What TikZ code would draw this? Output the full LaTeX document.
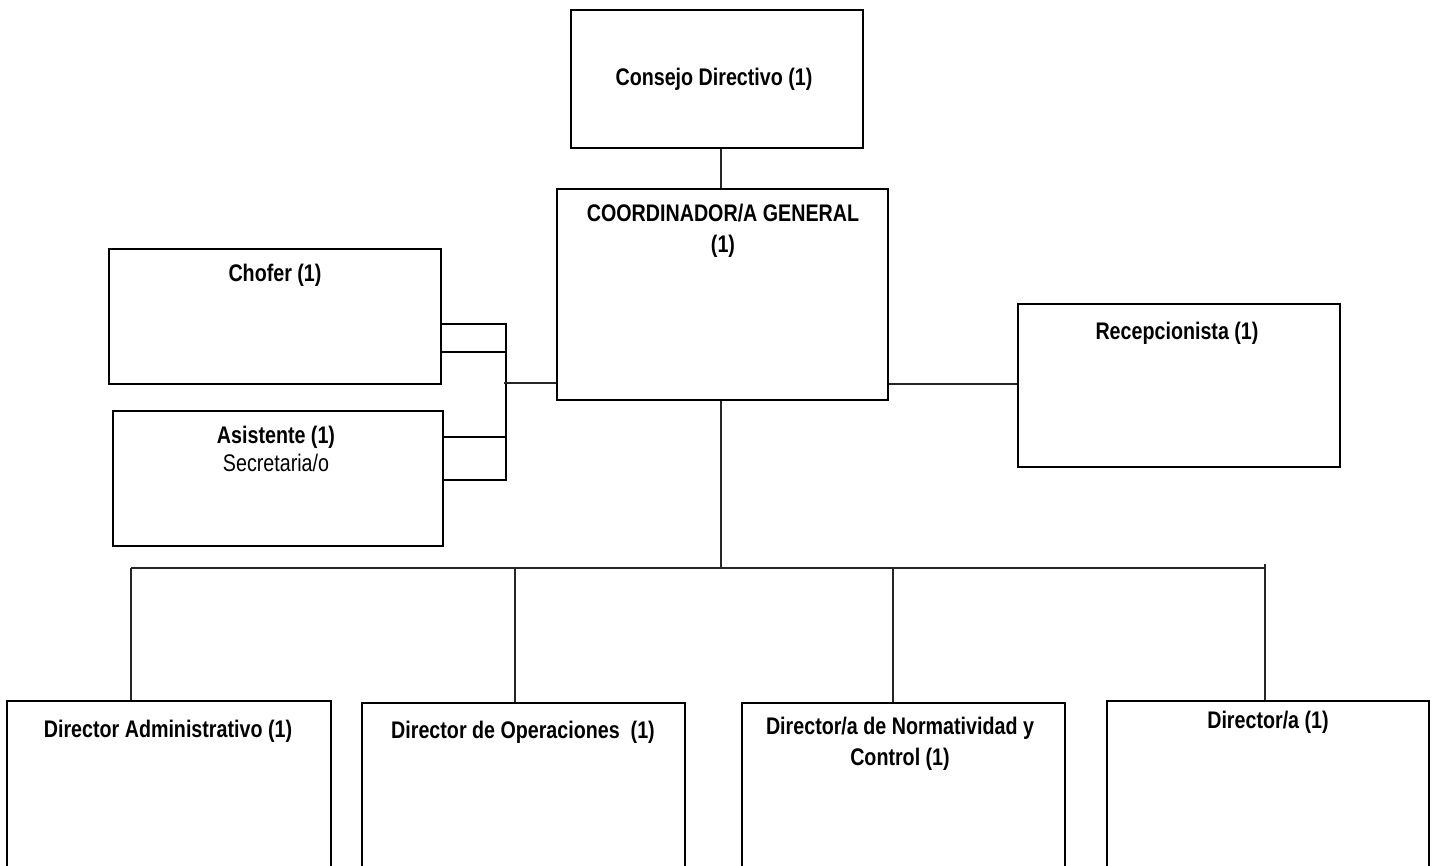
\documentclass[tikz,border=0pt]{standalone}
\usepackage{fontspec}
\setmainfont{Liberation Sans}[FakeStretch=0.82]
\begin{document}
\begin{tikzpicture}[x=1pt,y=-1pt,
  box/.style={draw=black, line width=1.7pt, rectangle, inner sep=0pt},
  link/.style={draw=black!85, line width=1.2pt},
  brace/.style={draw=black, line width=1.5pt},
  lbl/.style={font=\fontsize{24}{31}\selectfont\bfseries, align=center, inner sep=0pt},
  sub/.style={font=\fontsize{24}{31}\selectfont, inner sep=0pt}]
\clip (0,0) rectangle (1437,865);
\fill[white] (0,0) rectangle (1437,865);

% boxes
\node[box, minimum width=292pt, minimum height=138pt] (consejo) at (717,79) {};
\node[box, minimum width=331pt, minimum height=211pt] (coord) at (722.5,294.5) {};
\node[box, minimum width=332pt, minimum height=135pt] (chofer) at (275,316.5) {};
\node[box, minimum width=330pt, minimum height=135pt] (asist) at (278,478.5) {};
\node[box, minimum width=322pt, minimum height=163pt] (recep) at (1179,385.5) {};
\node[box, minimum width=324pt, minimum height=240pt] (dadm) at (169,821) {};
\node[box, minimum width=323pt, minimum height=240pt] (dops) at (523.5,823) {};
\node[box, minimum width=323pt, minimum height=240pt] (dnorm) at (903.5,823) {};
\node[box, minimum width=322pt, minimum height=240pt] (dira) at (1268,821) {};

% labels
\node[lbl] (consejo-t) at (714,79) {Consejo Directivo (1)};
\node[lbl] (coord-t) at (723,231) {COORDINADOR/A GENERAL\\(1)};
\node[lbl] (chofer-t) at (275,275) {Chofer (1)};
\node[lbl] (asist-t) at (276,437) {Asistente (1)};
\node[sub] (asist-s) at (276,463) {Secretaria/o};
\node[lbl] (recep-t) at (1177,333) {Recepcionista (1)};
\node[lbl] (dadm-t) at (168,731) {Director Administrativo (1)};
\node[lbl] (dops-t) at (523,732) {Director de Operaciones~~(1)};
\node[lbl] (dnorm-t) at (900,744) {Director/a de Normatividad y\\Control (1)};
\node[lbl] (dira-t) at (1268,722) {Director/a (1)};

% trunk and bus
\coordinate (trunk) at (721,568);
\coordinate (busL) at (131,568);
\coordinate (bus2) at (515,568);
\coordinate (bus3) at (893,568);
\coordinate (busR) at (1265,568);
\coordinate (busRtop) at (1265,564);
\draw[link] (trunk |- consejo.south) -- (trunk |- coord.north);
\draw[link] (trunk |- coord.south) -- (trunk);
\draw[link] (busL) -- (busR);
\draw[link] (busL) -- (busL |- dadm.north);
\draw[link] (bus2) -- (bus2 |- dops.north);
\draw[link] (bus3) -- (bus3 |- dnorm.north);
\draw[link] (busRtop) -- (busR |- dira.north);

% staff bracket on the left
\coordinate (k1) at (506,324);
\coordinate (k2) at (506,352);
\coordinate (k3) at (506,437);
\coordinate (k4) at (506,480);
\coordinate (k0) at (504,383);
\draw[brace] (chofer.east |- k1) -- (k1) -- (k4) -- (asist.east |- k4);
\draw[brace] (chofer.east |- k2) -- (k2);
\draw[brace] (asist.east |- k3) -- (k3);
\draw[link] (k0) -- (coord.west |- k0);

% reception
\coordinate (r0) at (950,384);
\draw[link] (coord.east |- r0) -- (recep.west |- r0);
\end{tikzpicture}
\end{document}
